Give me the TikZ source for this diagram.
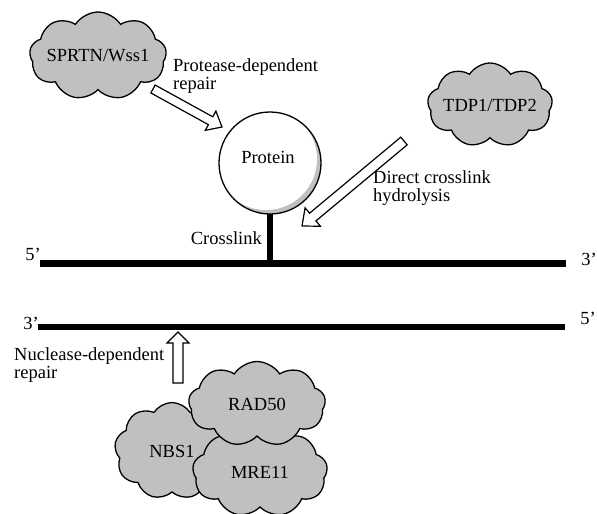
\documentclass[tikz,border=0pt]{standalone}
\usepackage{fontspec}
\setmainfont{Liberation Serif}
\usetikzlibrary{shapes.symbols,calc}

\definecolor{puffgray}{RGB}{192,192,192}

\tikzset{
  txt/.style={inner sep=0pt, align=left},
  puff/.style={cloud, draw=black, line width=1.3pt, fill=puffgray,
    cloud puffs=9, cloud puff arc=115, inner sep=0pt},
  strand/.style={line width=6.5pt, line cap=butt},
  hollow/.style={draw=black, fill=white, line width=1.2pt, line join=miter},
}

% hollow block arrow from #1 to #2: shaft half width #3, head half width #4, head length #5
\newcommand\blockarrow[5]{%
  \draw[hollow] let \p1=(#1), \p2=(#2),
      \n1={atan2(\y2-\y1,\x2-\x1)}, \n2={veclen(\x2-\x1,\y2-\y1)} in
    [shift={(\x1,\y1)}, rotate=\n1]
    (0pt,-#3pt) -- ({\n2-#5pt},-#3pt) -- ({\n2-#5pt},-#4pt) -- (\n2,0pt)
    -- ({\n2-#5pt},#4pt) -- ({\n2-#5pt},#3pt) -- (0pt,#3pt) -- cycle;}

\begin{document}
\begin{tikzpicture}[x=1pt, y=-1pt, font=\fontsize{18.5}{18}\selectfont]
\useasboundingbox (0,0) rectangle (597,514);

% DNA strands
\coordinate (s1a) at (40,263.5);
\coordinate (s1b) at (566,263.5);
\coordinate (s2a) at (38,327);
\coordinate (s2b) at (565,327);
\draw[strand] (s1a) -- (s1b);
\draw[strand] (s2a) -- (s2b);
\node[txt] (l5top) at (33,254) {5’};
\node[txt] (r3top) at (589,259) {3’};
\node[txt] (l3bot) at (31,323) {3’};
\node[txt] (r5bot) at (588,318) {5’};

% protein with its crosslink to the top strand
\coordinate (pc) at (270,163);
\coordinate (xl) at (270,263.5);
\draw[line width=6.5pt] (pc) ++(0,50) -- (xl);
\fill[puffgray] (pc) circle[radius=51];
\begin{scope}
  \clip (pc) circle[radius=51];
  \fill[white] ($(pc)+(-4,-4)$) circle[radius=51];
\end{scope}
\draw[line width=1.3pt] (pc) circle[radius=51];
\node[txt] (protein) at (268,157) {Protein};
\node[txt, anchor=east] (crosslink) at (262,238) {Crosslink};

% repair factors
\node[puff, minimum width=137, minimum height=88, aspect=1.6,
      label={center:SPRTN/Wss1}] (sprtn) at (98,56) {};
\node[puff, minimum width=125, minimum height=84, aspect=1.5,
      label={center:TDP1/TDP2}] (tdp) at (490,105) {};
\node[puff, minimum width=115, minimum height=97, aspect=1.2,
      label={center:NBS1}] (nbs) at (172,451) {};
\node[puff, minimum width=135, minimum height=90, aspect=1.5,
      label={center:MRE11}] (mre) at (260,472) {};
\node[puff, minimum width=137, minimum height=85, aspect=1.6,
      label={center:RAD50}] (rad) at (257,404) {};

% pathway labels
\node[txt, anchor=west] (protease) at (173,76) {Protease-dependent\\repair};
\node[txt, anchor=west] (direct) at (373,188) {Direct crosslink\\hydrolysis};
\node[txt, anchor=west] (nuclease) at (14,365) {Nuclease-dependent\\repair};

% pathway arrows
\coordinate (a1t) at (153,89);
\coordinate (a1h) at (222,127);
\coordinate (a2t) at (404,141);
\coordinate (a2h) at (302,226);
\coordinate (a3t) at (178,383);
\coordinate (a3h) at (178,332);
\blockarrow{a1t}{a1h}{4.5}{11}{13}
\blockarrow{a2t}{a2h}{5}{12}{14}
\blockarrow{a3t}{a3h}{5}{11}{11}
\end{tikzpicture}
\end{document}
